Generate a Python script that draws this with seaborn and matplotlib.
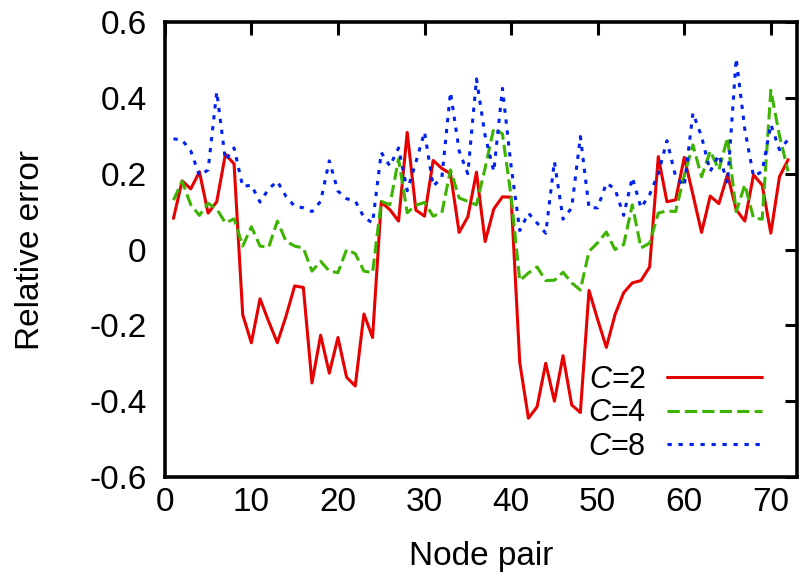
import matplotlib
matplotlib.use("Agg")
import matplotlib.pyplot as plt
import seaborn as sns
import pandas as pd

node_pair = list(range(1, 73))

err_c2 = [0.082, 0.181, 0.160, 0.205, 0.096, 0.126, 0.251, 0.226, -0.172, -0.246,
          -0.130, -0.190, -0.246, -0.176, -0.096, -0.100, -0.352, -0.226, -0.326, -0.232,
          -0.337, -0.360, -0.170, -0.232, 0.125, 0.105, 0.075, 0.309, 0.104, 0.088,
          0.235, 0.214, 0.200, 0.045, 0.086, 0.204, 0.021, 0.107, 0.139, 0.138,
          -0.298, -0.445, -0.415, -0.300, -0.400, -0.280, -0.410, -0.430, -0.108, -0.185,
          -0.258, -0.172, -0.114, -0.088, -0.082, -0.046, 0.245, 0.126, 0.131, 0.243,
          0.145, 0.045, 0.141, 0.121, 0.198, 0.105, 0.075, 0.197, 0.170, 0.043,
          0.192, 0.237]

err_c4 = [0.130, 0.180, 0.118, 0.090, 0.122, 0.107, 0.070, 0.081, 0.009, 0.060,
          0.009, 0.006, 0.075, 0.022, 0.009, 0.004, -0.057, -0.031, -0.057, -0.061,
          0.000, -0.011, -0.057, -0.061, 0.127, 0.118, 0.239, 0.097, 0.117, 0.124,
          0.088, 0.097, 0.210, 0.136, 0.127, 0.118, 0.215, 0.320, 0.305, 0.140,
          -0.082, -0.062, -0.046, -0.082, -0.081, -0.060, -0.088, -0.107, -0.005, 0.018,
          0.046, 0.000, 0.013, 0.118, 0.004, 0.017, 0.096, 0.102, 0.100, 0.195,
          0.276, 0.192, 0.260, 0.210, 0.295, 0.100, 0.171, 0.083, 0.080, 0.420,
          0.300, 0.206]

err_c8 = [0.292, 0.289, 0.260, 0.195, 0.210, 0.416, 0.236, 0.268, 0.166, 0.170,
          0.125, 0.160, 0.180, 0.140, 0.114, 0.110, 0.100, 0.127, 0.234, 0.154,
          0.134, 0.128, 0.085, 0.070, 0.256, 0.220, 0.268, 0.155, 0.230, 0.310,
          0.167, 0.190, 0.415, 0.260, 0.200, 0.450, 0.300, 0.206, 0.425, 0.220,
          0.050, 0.096, 0.070, 0.043, 0.232, 0.080, 0.110, 0.298, 0.110, 0.110,
          0.175, 0.160, 0.090, 0.190, 0.110, 0.145, 0.200, 0.287, 0.193, 0.167,
          0.360, 0.298, 0.206, 0.250, 0.175, 0.504, 0.316, 0.193, 0.206, 0.330,
          0.263, 0.290]

series_labels = [r"$C$=2", r"$C$=4", r"$C$=8"]
x_ticks = [0, 10, 20, 30, 40, 50, 60, 70]
y_ticks = [-0.6, -0.4, -0.2, 0.0, 0.2, 0.4, 0.6]
y_tick_labels = ["-0.6", "-0.4", "-0.2", "0", "0.2", "0.4", "0.6"]

sns.set_theme(style="white")
plt.rcParams["font.family"] = ["Liberation Sans", "DejaVu Sans"]
plt.rcParams["mathtext.fontset"] = "custom"
plt.rcParams["mathtext.rm"] = "Liberation Sans"
plt.rcParams["mathtext.it"] = "Liberation Sans:italic"
for k in ["text.color", "axes.labelcolor", "xtick.color", "ytick.color"]:
    plt.rcParams[k] = "black"

FS = 24
LFS = 22

fig = plt.figure(figsize=(8, 5.8), dpi=100)
ax = fig.add_axes([0.206, 0.1776, 0.79, 0.7844])

styles = [
    dict(color="#e60000", linestyle="-"),
    dict(color="#3cb400", linestyle=(0, (4.0, 1.7))),
    dict(color="#0022ee", linestyle=(0, (1.4, 2.2))),
]
for vals, lab, st in zip([err_c2, err_c4, err_c8], series_labels, styles):
    df = pd.DataFrame({"Node pair": node_pair, "Relative error": vals})
    sns.lineplot(data=df, x="Node pair", y="Relative error", ax=ax,
                 label=lab, linewidth=2.2, **st)

ax.set_xlim(0, 73)
ax.set_ylim(-0.6, 0.6)
ax.set_xticks(x_ticks)
ax.set_xticklabels([str(t) for t in x_ticks])
ax.set_yticks(y_ticks)
ax.set_yticklabels(y_tick_labels)
ax.tick_params(axis="both", direction="in", length=9, width=2.2,
               labelsize=FS, top=True, right=True, color="black",
               labelcolor="black")
ax.tick_params(axis="x", pad=7)
ax.tick_params(axis="y", pad=13)
for s in ax.spines.values():
    s.set_visible(True)
    s.set_linewidth(2.6)
    s.set_color("black")
ax.set_xlabel("Node pair", fontsize=FS, labelpad=17, color="black")
ax.set_ylabel("Relative error", fontsize=FS, labelpad=31, color="black")

leg = ax.legend(loc="lower right", bbox_to_anchor=(762 / 800, 1 - 462 / 580),
                bbox_transform=fig.transFigure, frameon=False, fontsize=LFS,
                markerfirst=False, handlelength=3.1, handletextpad=0.7,
                labelspacing=0.12, borderpad=0, borderaxespad=0)
for t in leg.get_texts():
    t.set_color("black")

fig.savefig("out.png", dpi=100)
